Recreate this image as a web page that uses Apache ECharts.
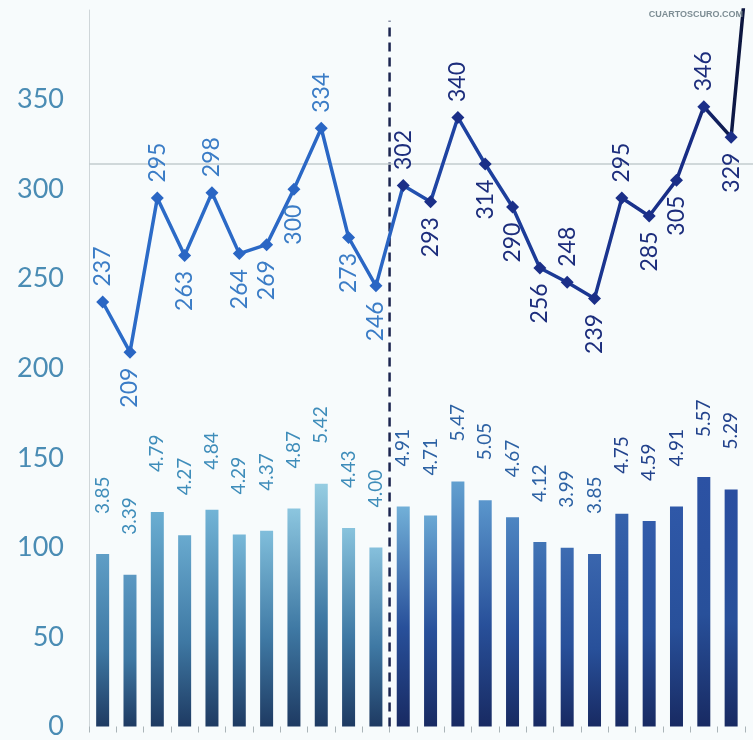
<!DOCTYPE html>
<html><head><meta charset="utf-8">
<script src="https://cdn.jsdelivr.net/npm/echarts@6/dist/echarts.min.js"></script>
<style>html,body{margin:0;padding:0;background:#f7fbfc}#c{width:753px;height:740px}</style>
</head><body><div id="c"></div>
<script>
// ---- data ----
const categories = ['1','2','3','4','5','6','7','8','9','10','11','12','13','14','15','16','17','18','19','20','21','22','23','24','25'];
const lineValues = [237,209,295,263,298,264,269,300,334,273,246,302,293,340,314,290,256,248,239,295,285,305,346,329,490];
const barValues  = [3.85,3.39,4.79,4.27,4.84,4.29,4.37,4.87,5.42,4.43,4.00,4.91,4.71,5.47,5.05,4.67,4.12,3.99,3.85,4.75,4.59,4.91,5.57,5.29,null];
const yTickValues = [0,50,100,150,200,250,300,350];
const referenceLevel = [314];
const dividerAt = [11];          // boundary between category 11 and 12
const visibleSlots = 24.3;       // the printed chart is cut at the right edge
// ---- styles ----
const lineLabelSide = ['top','bottom','top','bottom','top','bottom','bottom','bottom','top','bottom','bottom','top','bottom','top','bottom','bottom','bottom','top','bottom','top','bottom','bottom','top','bottom','top'];
const barTopColors = ['#5f9ec6','#5b98c2','#6aaed2','#69aacf','#72b4d6','#78b8d8','#80bedb','#8cc6df','#96cde2','#88c3dd','#86c0dc',
                      '#72b0d8','#6aa8d4','#62a0d0','#5a96cc','#4e86c2','#4275b6','#3d6cb2','#3a66ae','#3662ac','#335cab','#2f58a8','#2c52a4','#2a4ea0','#2a4ea0'];
const splitIndex = 11;

const chart = echarts.init(document.getElementById('c'));
// category i is centred in slot [i, i+1] of the x scale
const lineData = categories.map((c,i)=>({
  name: c,
  value: [i + 0.5, lineValues[i]],
  label: {
    position: lineLabelSide[i],
    align: lineLabelSide[i]==='top' ? 'left' : 'right',
    color: i < splitIndex ? '#3a7cc6' : '#1c2d7c'
  }
}));
const barData = categories.map((c,i)=>({
  name: c,
  value: [i + 0.5, barValues[i]],
  label: { color: i < splitIndex ? '#3f8dba' : (i < 19 ? '#2d62a4' : '#22428c') }
}));

chart.setOption({
  backgroundColor: '#f7fbfc',
  animation: false,
  title: {
    text: 'CUARTOSCURO.COM', right: 5, top: 5,
    textStyle: { fontSize: 9, color: '#7d8d94', fontWeight: 'bold', fontFamily: 'Liberation Sans' }
  },
  grid: { left: 89, top: 10, right: 0, height: 723 },
  xAxis: [
    { type: 'value', min: 0, max: visibleSlots, interval: 1,
      axisLine: { show: false },
      axisTick: { show: true, length: 6, lineStyle: { color: '#aab4b8', width: 1 } },
      axisLabel: { show: false }, splitLine: { show: false } }
  ],
  yAxis: [
    { type: 'value', min: 0, max: 400, interval: 50,
      axisLine: { show: true, lineStyle: { color: '#cfd6d9', width: 1 } },
      axisTick: { show: false }, splitLine: { show: false },
      axisLabel: { showMaxLabel: false, margin: 25, fontSize: 27, color: '#4a8cb4', fontFamily: 'Lato',
        formatter: v => yTickValues.includes(v) ? String(v) : '' } },
    { type: 'value', min: 0, max: 16, show: false }
  ],
  series: [
    { type: 'bar', xAxisIndex: 0, yAxisIndex: 1, data: barData, barWidth: 13, z: 2,
      itemStyle: { color: p => new echarts.graphic.LinearGradient(0,0,0,1,[
        {offset:0, color: barTopColors[p.dataIndex]},
        {offset:0.55, color: p.dataIndex < splitIndex ? '#3f79a4' : '#28509a'},
        {offset:1, color: p.dataIndex < splitIndex ? '#1e3a62' : '#182a62'}]) },
      label: { show: true, position: 'top', rotate: 90, align: 'left', verticalAlign: 'middle',
        distance: 40, fontSize: 19, fontFamily: 'Lato',
        formatter: p => p.value[1] == null ? '' : Number(p.value[1]).toFixed(2) } },
    { type: 'line', xAxisIndex: 0, yAxisIndex: 0, silent: true, symbol: 'none', z: 3,
      data: [[dividerAt[0], 0], [dividerAt[0], 394]],
      lineStyle: { type: [9, 6], color: '#1c2550', width: 2.5 } },
    { type: 'line', xAxisIndex: 0, yAxisIndex: 0, data: lineData, z: 5,
      symbol: 'diamond', symbolSize: 13, showAllSymbol: true,
      lineStyle: { width: 3.5, color: new echarts.graphic.LinearGradient(0,0,1,0,[
        {offset:0, color:'#2c6cc8'}, {offset:0.43, color:'#2a66c4'},
        {offset:0.5, color:'#1f45a4'}, {offset:0.9, color:'#182c84'}, {offset:0.95, color:'#0e1a4a'}, {offset:1, color:'#0a1030'}]) },
      itemStyle: { color: p => p.dataIndex < splitIndex ? '#2a66c4' : '#1b2f88' },
      label: { show: true, rotate: 90, verticalAlign: 'middle', distance: 9, fontSize: 23, fontFamily: 'Lato',
        formatter: p => String(p.value[1]) },
      markLine: { silent: true, symbol: 'none', label: { show: false },
        lineStyle: { color: '#c3cccf', type: 'solid', width: 1.5 },
        data: referenceLevel.map(v => ({ yAxis: v })) } }
  ]
});
</script></body></html>
